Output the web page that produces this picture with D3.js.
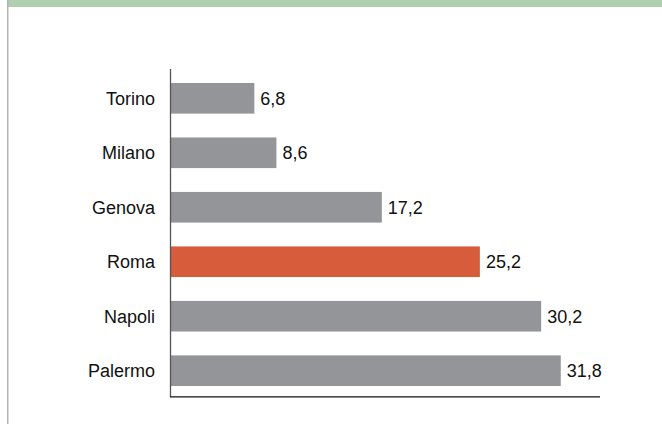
<!DOCTYPE html>
<html>
<head>
<meta charset="utf-8">
<script src="https://cdn.jsdelivr.net/npm/d3@7"></script>
<style>
html,body{margin:0;padding:0;background:#fff;}
svg{display:block;}
text{font-family:"Liberation Sans",Arial,sans-serif;}
</style>
</head>
<body>
<svg id="chart" width="662" height="424"></svg>
<script>
const categories = ["Torino","Milano","Genova","Roma","Napoli","Palermo"];
const values = [6.8, 8.6, 17.2, 25.2, 30.2, 31.8];
const highlight = ["Roma"];
const labels = ["6,8","8,6","17,2","25,2","30,2","31,8"];

const svg = d3.select("#chart");
// frame decoration
svg.append("rect").attr("x",7).attr("y",0).attr("width",655).attr("height",7).attr("fill","#b0ceb0");
svg.append("rect").attr("x",7).attr("y",0).attr("width",1.5).attr("height",424).attr("fill","#b4b4b4");

const x = d3.scaleLinear().domain([0,35]).range([171,600]);
const y = d3.scaleBand().domain(categories).range([71,398]).paddingInner(0.438).paddingOuter(0.22);

svg.selectAll("rect.bar").data(categories).enter().append("rect")
  .attr("class","bar")
  .attr("x",x(0))
  .attr("y",d=>y(d))
  .attr("width",(d,i)=>x(values[i])-x(0))
  .attr("height",y.bandwidth())
  .attr("fill",d=>highlight.includes(d)?"#d75c3c":"#949598");

// axes lines
svg.append("line").attr("x1",170.5).attr("x2",170.5).attr("y1",69).attr("y2",397).attr("stroke","#555").attr("stroke-width",1.3);
svg.append("line").attr("x1",170).attr("x2",600).attr("y1",396.8).attr("y2",396.8).attr("stroke","#111").attr("stroke-width",1.3);

// category labels
svg.selectAll("text.cat").data(categories).enter().append("text")
  .attr("class","cat")
  .attr("x",155)
  .attr("y",d=>y(d)+y.bandwidth()/2)
  .attr("dy","0.35em")
  .attr("text-anchor","end")
  .attr("font-size",18)
  .attr("fill","#111")
  .text(d=>d);

// value labels
svg.selectAll("text.val").data(categories).enter().append("text")
  .attr("class","val")
  .attr("x",(d,i)=>x(values[i])+6)
  .attr("y",d=>y(d)+y.bandwidth()/2)
  .attr("dy","0.35em")
  .attr("font-size",18)
  .attr("fill","#111")
  .text((d,i)=>labels[i]);
</script>
</body>
</html>
